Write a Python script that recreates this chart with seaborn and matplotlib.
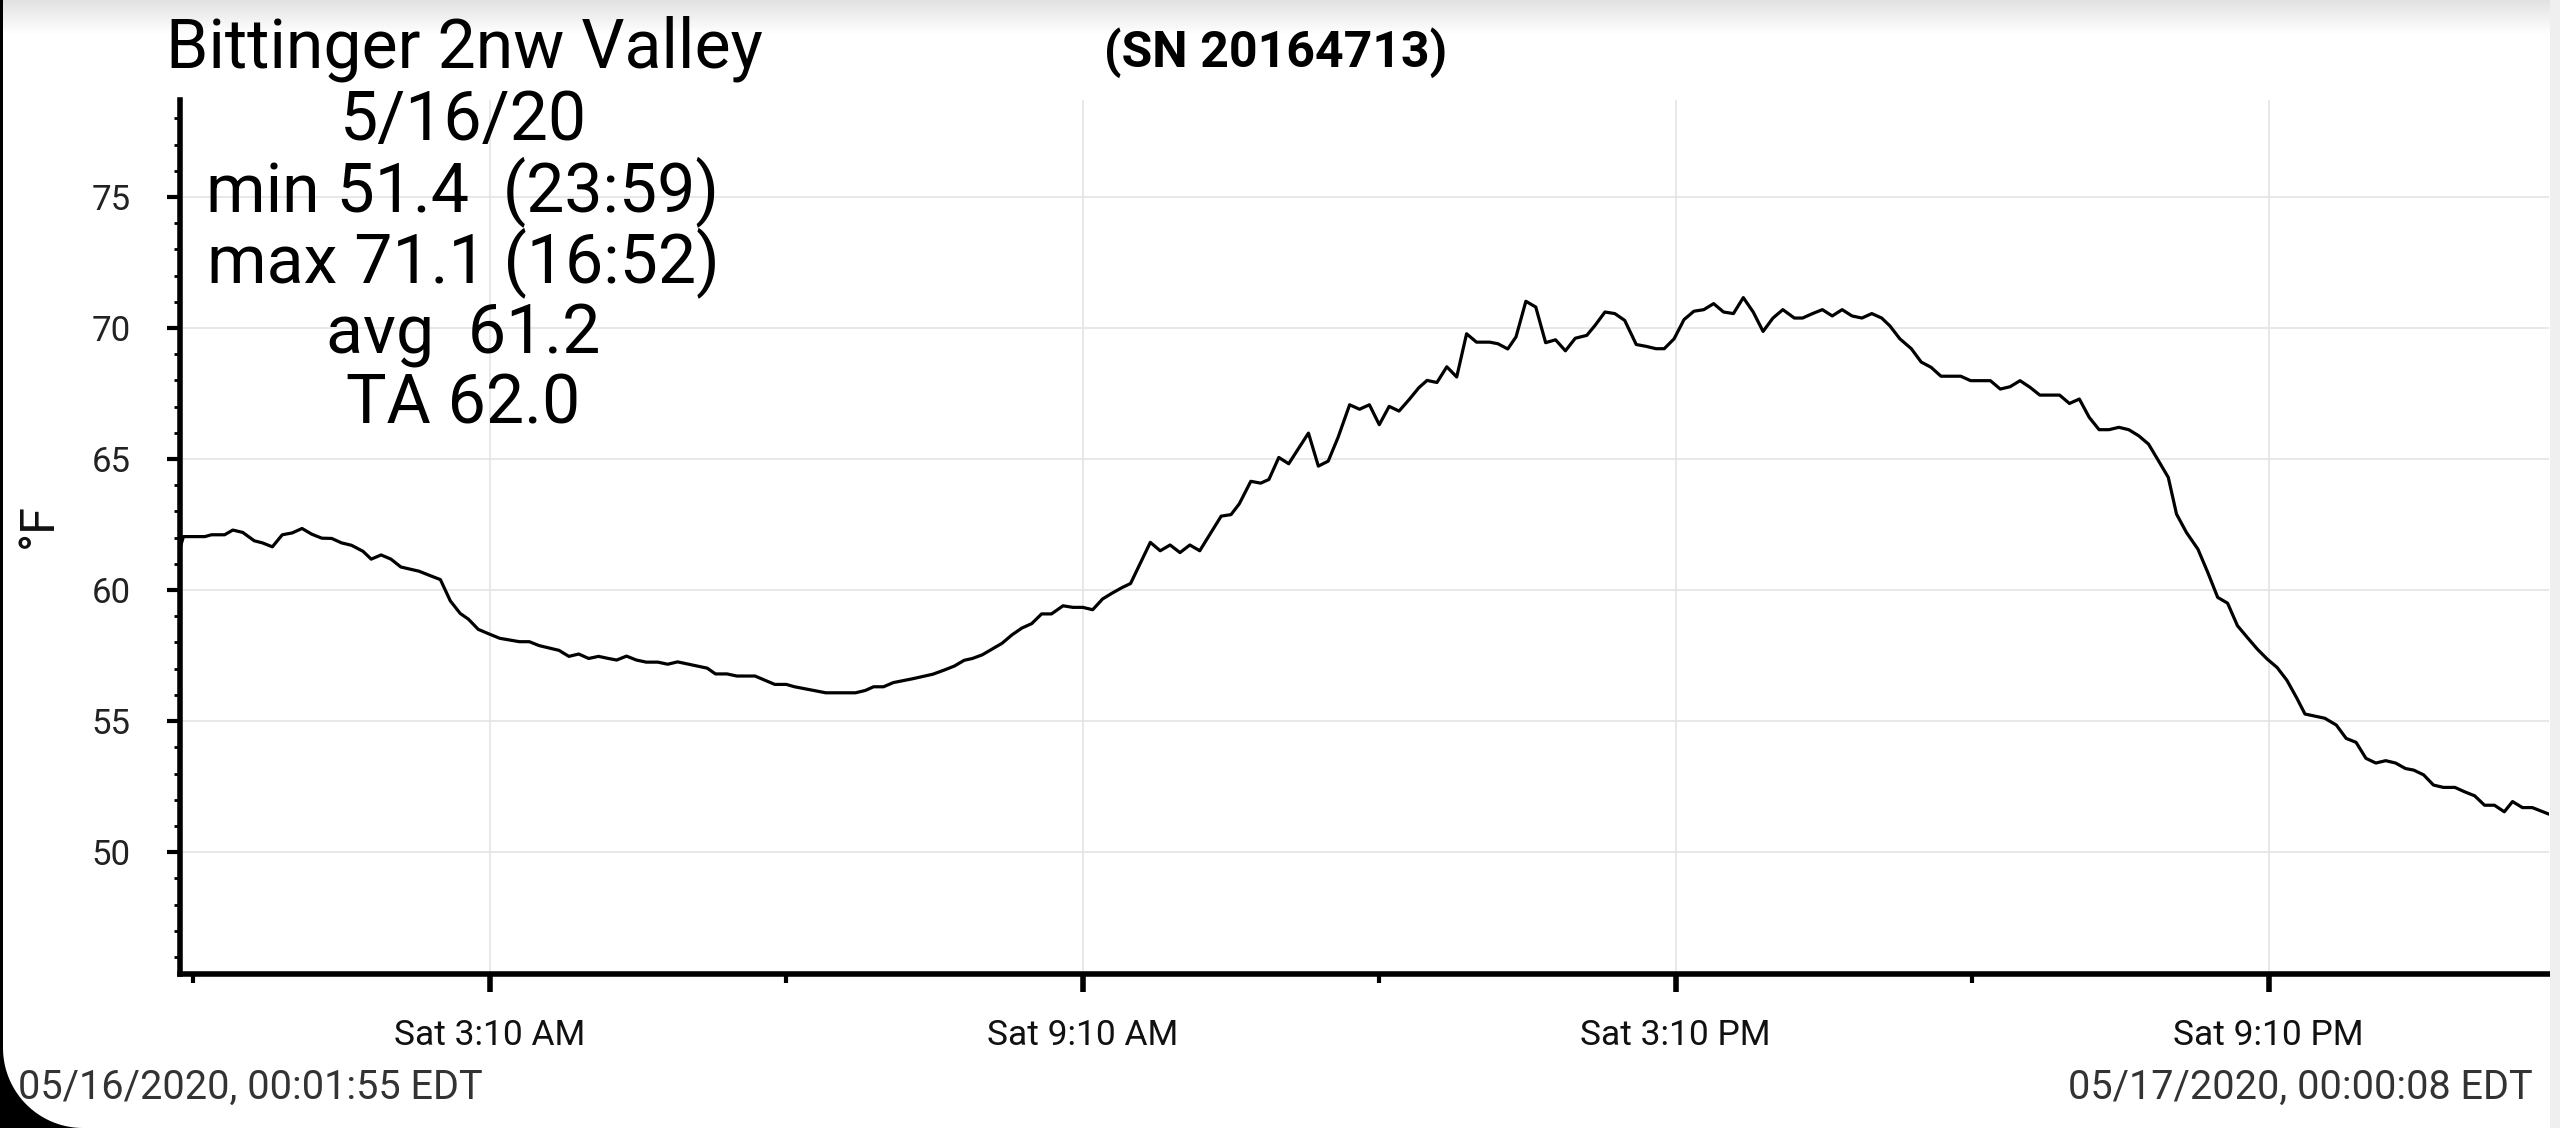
import numpy as np
import pandas as pd
import matplotlib
matplotlib.use("Agg")
import matplotlib.pyplot as plt
import matplotlib.dates as mdates
import matplotlib.transforms as mtransforms
from matplotlib.patches import Rectangle, Polygon
import seaborn as sns

# station / summary text
TITLE = "Bittinger 2nw Valley"
SERIAL = "(SN 20164713)"
STATS = ["5/16/20", "min 51.4  (23:59)", "max 71.1 (16:52)", "avg  61.2", "TA 62.0"]
START_LABEL = "05/16/2020, 00:01:55 EDT"
END_LABEL = "05/17/2020, 00:00:08 EDT"
DAY = "2020-05-16"
START = "2020-05-16 00:01:55"
END = "2020-05-17 00:00:08"

# readings: minutes after midnight and temperature (°F)
MINUTES = [
    1.9, 4, 17, 21, 29, 34, 40, 47, 52, 58,
    64, 70, 76, 82, 88, 94, 100, 106, 113, 118,
    124, 130, 136, 147, 153, 160, 166, 172, 177, 183,
    189, 196, 208, 214, 220, 232, 238, 244, 250, 256,
    262, 267, 273, 279, 285, 292, 298, 304, 322, 327,
    334, 340, 351, 357, 363, 370, 375, 394, 412, 418,
    423, 429, 435, 447, 459, 466, 472, 478, 483, 489,
    501, 507, 513, 519, 525, 531, 538, 544, 550, 556,
    562, 568, 574, 579, 591, 597, 603, 609, 615, 621,
    634, 640, 645, 652, 658, 663, 669, 675, 687, 693,
    699, 705, 712, 718, 724, 730, 736, 742, 748, 754,
    759, 765, 771, 777, 783, 789, 797, 802, 808, 813,
    819, 825, 831, 837, 843, 849, 856, 861, 867, 873,
    879, 886, 892, 898, 903, 909, 915, 921, 927, 933,
    939, 945, 951, 957, 963, 969, 975, 982, 987, 993,
    999, 1005, 1011, 1017, 1023, 1029, 1035, 1040, 1046, 1053,
    1059, 1065, 1071, 1083, 1089, 1101, 1107, 1113, 1119, 1125,
    1131, 1143, 1149, 1155, 1161, 1167, 1173, 1179, 1185, 1191,
    1197, 1203, 1209, 1214, 1220, 1227, 1233, 1239, 1245, 1251,
    1257, 1263, 1269, 1275, 1281, 1287, 1292, 1304, 1311, 1317,
    1323, 1329, 1335, 1341, 1347, 1353, 1358, 1364, 1370, 1376,
    1383, 1389, 1395, 1401, 1407, 1413, 1418, 1424, 1430, 1440.1,
]
TEMPS = [
    61.60, 62.04, 62.04, 62.11, 62.11, 62.29, 62.20, 61.88, 61.80, 61.65,
    62.11, 62.18, 62.35, 62.13, 61.98, 61.97, 61.80, 61.71, 61.48, 61.18,
    61.34, 61.18, 60.88, 60.72, 60.57, 60.40, 59.59, 59.11, 58.89, 58.50,
    58.34, 58.16, 58.03, 58.03, 57.88, 57.70, 57.47, 57.56, 57.39, 57.47,
    57.39, 57.33, 57.48, 57.33, 57.25, 57.25, 57.17, 57.26, 57.02, 56.80,
    56.80, 56.72, 56.72, 56.56, 56.40, 56.40, 56.31, 56.08, 56.08, 56.17,
    56.31, 56.31, 56.47, 56.62, 56.79, 56.95, 57.10, 57.32, 57.39, 57.53,
    57.97, 58.29, 58.55, 58.72, 59.09, 59.09, 59.40, 59.34, 59.34, 59.25,
    59.66, 59.89, 60.10, 60.25, 61.82, 61.50, 61.72, 61.43, 61.72, 61.50,
    62.82, 62.88, 63.29, 64.15, 64.08, 64.22, 65.06, 64.82, 65.99, 64.73,
    64.92, 65.83, 67.07, 66.90, 67.07, 66.31, 67.01, 66.83, 67.26, 67.72,
    68.00, 67.92, 68.52, 68.13, 69.78, 69.46, 69.46, 69.40, 69.20, 69.66,
    71.02, 70.80, 69.44, 69.55, 69.13, 69.61, 69.72, 70.10, 70.61, 70.55,
    70.29, 69.37, 69.30, 69.21, 69.21, 69.59, 70.32, 70.64, 70.70, 70.93,
    70.61, 70.55, 71.16, 70.61, 69.87, 70.38, 70.70, 70.38, 70.38, 70.55,
    70.70, 70.46, 70.70, 70.46, 70.38, 70.55, 70.38, 70.08, 69.59, 69.21,
    68.70, 68.50, 68.16, 68.16, 67.99, 67.99, 67.67, 67.76, 67.99, 67.74,
    67.44, 67.44, 67.12, 67.29, 66.59, 66.12, 66.12, 66.21, 66.12, 65.89,
    65.57, 64.94, 64.30, 62.90, 62.20, 61.56, 60.67, 59.72, 59.50, 58.64,
    58.19, 57.75, 57.37, 57.05, 56.56, 55.88, 55.27, 55.11, 54.85, 54.34,
    54.19, 53.58, 53.40, 53.49, 53.40, 53.19, 53.13, 52.95, 52.56, 52.47,
    52.47, 52.30, 52.15, 51.79, 51.79, 51.54, 51.93, 51.70, 51.70, 51.45,
]

YTICKS = [50, 55, 60, 65, 70, 75]
XTICK_TIMES = ["03:10", "09:10", "15:10", "21:10"]
XTICK_LABELS = ["Sat 3:10 AM", "Sat 9:10 AM", "Sat 3:10 PM", "Sat 9:10 PM"]
XMINOR_TIMES = ["00:10", "06:10", "12:10", "18:10"]

sns.set_theme(style="white")
plt.rcParams['font.family'] = ['Roboto', 'DejaVu Sans']

W, H = 2560, 1128
fig = plt.figure(figsize=(W / 100, H / 100), dpi=100)
fig.patch.set_facecolor("white")

df = pd.DataFrame({
    "time": pd.Timestamp(DAY) + pd.to_timedelta(MINUTES, unit="m"),
    "temp": TEMPS,
})

ax = fig.add_axes([180 / W, (H - 974) / H, (2549 - 180) / W, (974 - 100) / H])
sns.lineplot(data=df, x="time", y="temp", color="black", linewidth=2.3, ax=ax)

ax.set_xlim(pd.Timestamp(START), pd.Timestamp(END))
ax.set_ylim(45.35, 78.7)

ax.set_yticks(YTICKS)
ax.set_yticks(range(46, 79), minor=True)
ax.set_xticks([mdates.date2num(pd.Timestamp(DAY + " " + t)) for t in XTICK_TIMES])
ax.set_xticklabels(XTICK_LABELS)
ax.set_xticks([mdates.date2num(pd.Timestamp(DAY + " " + t)) for t in XMINOR_TIMES], minor=True)

ax.grid(True, which="major", color="#e4e4e4", linewidth=1.2)
ax.set_axisbelow(True)

for side in ["top", "right"]:
    ax.spines[side].set_visible(False)
for side in ["left", "bottom"]:
    ax.spines[side].set_color("black")
    ax.spines[side].set_linewidth(4)

ax.tick_params(axis="y", which="major", left=True, length=9.5, width=3, color="black",
               labelsize=25, labelcolor="#222222", pad=26)
ax.tick_params(axis="y", which="minor", left=True, length=4.5, width=2, color="black")
ax.tick_params(axis="x", which="major", bottom=True, length=13, width=4, color="black",
               labelsize=25.5, labelcolor="#111111", pad=19.5)
ax.tick_params(axis="x", which="minor", bottom=True, length=6.5, width=3, color="black")

ax.set_xlabel("")
ax.set_ylabel("°F", fontsize=35, color="#111111")
ax.yaxis.set_label_coords((62 - 180) / 2369, 0.5126)


def fy(y):
    return 1 - y / H


# title block
fig.text(464 / W, fy(68), TITLE, ha="center", va="baseline", fontsize=49, color="black")
for i, line in enumerate(STATS):
    fig.text(463 / W, fy(140 + 71 * i), line, ha="center", va="baseline", fontsize=49, color="black")
fig.text(1276 / W, fy(67), SERIAL, ha="center", va="baseline", fontsize=36,
         fontweight="bold", color="black")

# footer timestamps
fig.text(18 / W, fy(1099), START_LABEL, ha="left", va="baseline", fontsize=28.5, color="#333333")
fig.text(2533 / W, fy(1099), END_LABEL, ha="right", va="baseline", fontsize=28.5, color="#333333")

# screenshot frame: top shade, right strip, left edge and rounded corner
px = mtransforms.Affine2D().scale(1 / W, 1 / H) + fig.transFigure
shade = fig.add_axes([0, 1 - 34 / H, 1, 34 / H], zorder=-1)
grad = np.linspace(0.885, 1.0, 64).reshape(-1, 1)
shade.imshow(np.dstack([grad, grad, grad]), aspect="auto", extent=[0, 1, 0, 1])
shade.set_axis_off()
fig.patches.append(Rectangle((2550, 0), 10, H, transform=px, facecolor="#efefef", edgecolor="none"))
fig.patches.append(Rectangle((0, 0), 3, H, transform=px, facecolor="black", edgecolor="none"))
r = 80
ang = np.linspace(1.5 * np.pi, np.pi, 30)
corner = [(0, 0), (3 + r, 0)] + list(zip(3 + r + r * np.cos(ang), r + r * np.sin(ang))) + [(0, r)]
fig.patches.append(Polygon(corner, closed=True, transform=px, facecolor="black", edgecolor="none"))

fig.savefig("out.png", dpi=100, facecolor="white")
